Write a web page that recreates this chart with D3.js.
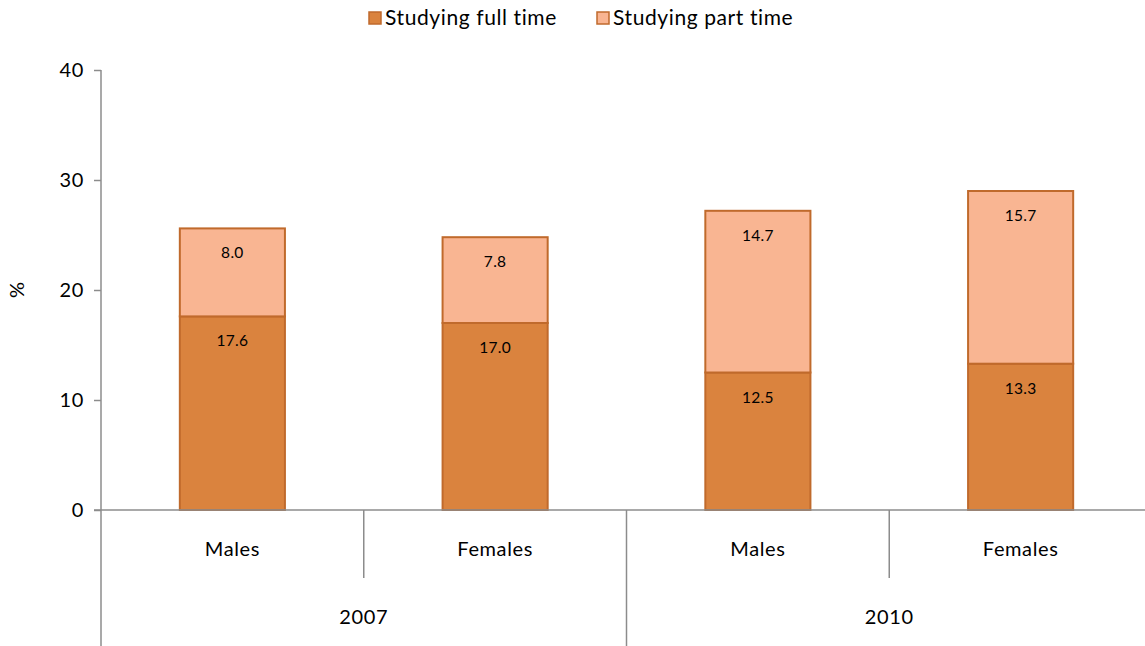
<!DOCTYPE html>
<html><head><meta charset="utf-8">
<script src="https://cdn.jsdelivr.net/npm/d3@7"></script>
<style>body{margin:0;background:#fff}svg{display:block;font-family:Lato,"Open Sans",sans-serif}</style>
</head><body>
<svg id="c" width="1145" height="646"></svg>
<script>
const years = ["2007", "2010"];
const sexes = ["Males", "Females"];
const fullTime = [17.6, 17.0, 12.5, 13.3];
const partTime = [8.0, 7.8, 14.7, 15.7];
const seriesNames = ["Studying full time", "Studying part time"];
const yTicks = [0, 10, 20, 30, 40];

const svg = d3.select("#c");
const colors = ["#DA833E", "#F9B592"];
const strokeC = "#C06A2C";
const axisC = "#8c8c8c";

const cats = [];
years.forEach(y => sexes.forEach(s => cats.push(y + "|" + s)));
const rows = cats.map((c, i) => ({key: c, full: fullTime[i], part: partTime[i]}));

const x = d3.scaleBand().domain(cats).range([101, 1152]).paddingInner(0.6).paddingOuter(0.3);
const y = d3.scaleLinear().domain([0, 40]).range([510, 70]);

const stack = d3.stack().keys(["full", "part"])(rows);

// bars
stack.forEach((layer, li) => {
  svg.append("g").selectAll("rect").data(layer).join("rect")
    .attr("x", d => x(d.data.key))
    .attr("width", x.bandwidth())
    .attr("y", d => y(d[1]))
    .attr("height", d => y(d[0]) - y(d[1]))
    .attr("fill", colors[li])
    .attr("stroke", strokeC).attr("stroke-width", 2);
  svg.append("g").selectAll("text").data(layer).join("text")
    .attr("x", d => x(d.data.key) + x.bandwidth() / 2)
    .attr("y", d => y(d[1]) + 30)
    .attr("text-anchor", "middle")
    .attr("font-size", 15.5).attr("letter-spacing", 0.3).attr("fill", "#000")
    .text(d => (d[1] - d[0]).toFixed(1));
});

// y axis
const yAxis = d3.axisLeft(y).tickValues(yTicks).tickSize(7).tickPadding(10);
const ga = svg.append("g").attr("transform", "translate(101,0)").call(yAxis);
ga.select(".domain").remove();
ga.selectAll("line").attr("stroke", axisC).attr("stroke-width", 1.5);
ga.selectAll("text").attr("font-size", 20).attr("letter-spacing", 0.6)
  .attr("font-family", "Lato,'Open Sans',sans-serif").attr("fill", "#000");
svg.append("line").attr("x1", 101).attr("x2", 101).attr("y1", 70).attr("y2", 646)
  .attr("stroke", axisC).attr("stroke-width", 1.5);

// x axis line
svg.append("line").attr("x1", 94).attr("x2", 1152).attr("y1", y(0)).attr("y2", y(0))
  .attr("stroke", axisC).attr("stroke-width", 1.5);

// category separators
const outer = d3.scaleLinear().domain([0, cats.length]).range([101, 1152]);
for (let i = 1; i <= cats.length; i++) {
  const xx = outer(i);
  const isYear = i % sexes.length === 0;
  svg.append("line").attr("x1", xx).attr("x2", xx).attr("y1", y(0)).attr("y2", isYear ? 646 : 578)
    .attr("stroke", axisC).attr("stroke-width", 1.5);
}
// sex labels
svg.append("g").selectAll("text").data(rows).join("text")
  .attr("x", d => x(d.key) + x.bandwidth() / 2)
  .attr("y", 556).attr("text-anchor", "middle").attr("font-size", 20).attr("letter-spacing", 0.6)
  .text(d => d.key.split("|")[1]);
// year labels
svg.append("g").selectAll("text").data(years).join("text")
  .attr("x", (d, i) => (outer(i * 2) + outer(i * 2 + 2)) / 2)
  .attr("y", 624).attr("text-anchor", "middle").attr("font-size", 20).attr("letter-spacing", 0.6)
  .text(d => d);

// y label
svg.append("text").attr("transform", "translate(24,290) rotate(-90)")
  .attr("text-anchor", "middle").attr("font-size", 20).text("%");

// legend
const lx = [369, 597];
seriesNames.forEach((n, i) => {
  svg.append("rect").attr("x", lx[i]).attr("y", 12).attr("width", 12).attr("height", 12)
    .attr("fill", colors[i]).attr("stroke", strokeC).attr("stroke-width", 1.5);
  svg.append("text").attr("x", lx[i] + 16).attr("y", 25).attr("font-size", 21).attr("letter-spacing", 0.6).text(n);
});
</script>
</body></html>
